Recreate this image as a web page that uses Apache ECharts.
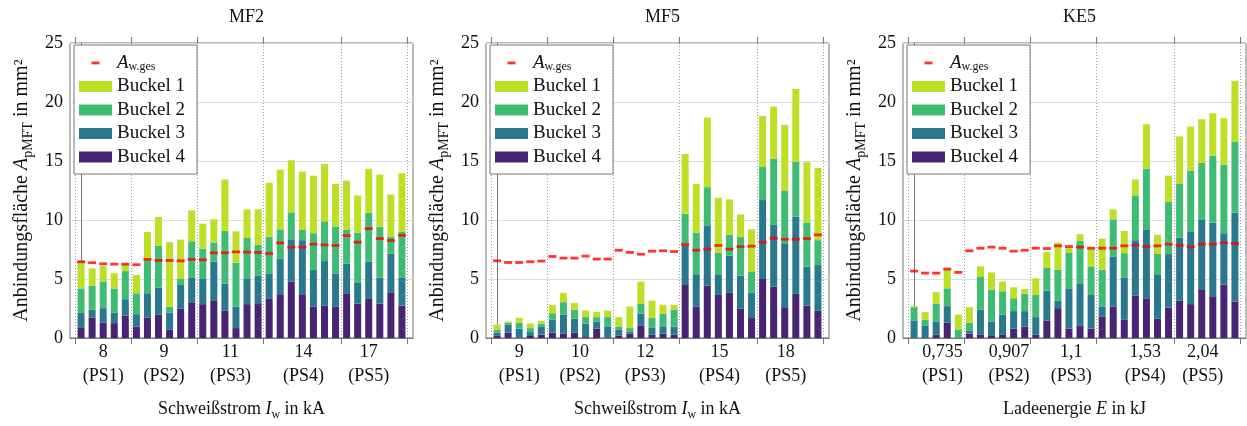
<!DOCTYPE html>
<html><head><meta charset="utf-8">
<script src="https://cdn.jsdelivr.net/npm/echarts@6/dist/echarts.min.js"></script>
<style>html,body{margin:0;padding:0;background:#fff}#c{width:1247px;height:426px}</style>
</head><body><div id="c"></div>
<script>
// ---------- DATA ----------
const panelTitles = ['MF2', 'MF5', 'KE5'];
const groupSizes = [5, 6, 6, 7, 6];
const xTicks_MF2 = ['8\n(PS1)', '9\n(PS2)', '11\n(PS3)', '14\n(PS4)', '17\n(PS5)'];
const xTicks_MF5 = ['9\n(PS1)', '10\n(PS2)', '12\n(PS3)', '15\n(PS4)', '18\n(PS5)'];
const xTicks_KE5 = ['0,735\n(PS1)', '0,907\n(PS2)', '1,1\n(PS3)', '1,53\n(PS4)', '2,04\n(PS5)'];

const MF2_buckel4 = [0.9,1.74,1.32,1.26,1.91,0.98,1.74,1.97,0.7,2.47,3.03,2.87,3.2,2.3,0.84,2.87,2.95,3.31,3.71,4.78,3.71,2.67,2.75,2.64,3.79,2.92,3.31,2.92,3.88,2.75];
const MF2_buckel3 = [1.26,0.65,1.21,0.9,1.38,1.04,2.05,2.3,1.46,2.08,2.11,2.13,3.26,2.3,1.83,2.13,2.33,2.17,2.98,3.59,4.58,3.09,3.77,2.84,2.5,1.8,3.15,2.19,3.28,2.39];
const MF2_buckel2 = [2.03,2.05,2.25,2.03,2.38,1.77,2.81,3.54,0.48,0.45,3.06,2.58,1.63,4.5,3.71,3.48,2.64,3.09,2.52,2.28,0.87,3.12,3.37,3.93,2.87,4.21,4.16,4.33,1.44,3.85];
const MF2_buckel1 = [2.31,1.46,1.34,1.29,0.57,1.55,2.39,2.44,5.48,3.34,2.61,2.11,1.97,4.33,2.66,2.42,2.98,4.58,5.06,4.41,4.94,4.88,4.86,3.65,4.18,3.15,3.71,4.41,3.56,4.97];
const MF2_awges   = [6.46,6.38,6.29,6.26,6.26,6.21,6.66,6.57,6.57,6.54,6.66,6.63,7.22,7.22,7.3,7.28,7.25,7.16,8.06,7.7,7.7,7.95,7.89,7.84,8.68,8.12,9.27,8.43,8.26,8.71];

const MF5_buckel4 = [0.22,0.45,0.05,0.17,0.28,0.45,0.39,0.45,0.08,0.79,0,0.22,0.37,1.07,0.28,0.37,0.28,4.49,2.67,4.44,3.65,3.82,2.47,1.69,5.0,4.35,2.61,3.74,2.75,2.3];
const MF5_buckel3 = [0.23,0.7,0.74,0.33,0.65,1.09,1.58,1.18,1.13,0.61,0.93,0.51,0.19,0.98,0.62,0.56,0.7,3.32,2.67,5.05,1.69,3.15,2.81,2.13,6.69,5.23,5.42,6.54,3.29,3.88];
const MF5_buckel2 = [0.25,0.14,0.5,0.34,0.28,0.56,1.06,0.76,0.56,0.37,0.84,0.25,0.28,0.84,0.79,1.12,1.44,2.72,3.59,3.29,1.91,1.77,3.29,1.83,2.8,5.62,4.47,4.66,3.74,2.11];
const MF5_buckel1 = [0.45,0.11,0.42,0.4,0.25,0.71,0.79,0.59,0.56,0.45,0.56,0.79,1.83,1.89,1.48,0.76,0.39,5.06,4.13,5.9,4.63,3.0,1.91,3.56,4.33,4.41,5.56,6.16,5.11,6.12];
const MF5_awges   = [6.54,6.4,6.4,6.46,6.52,6.91,6.77,6.77,6.94,6.69,6.69,7.44,7.25,7.1,7.36,7.39,7.33,7.92,7.44,7.53,7.84,7.53,7.75,7.78,8.12,8.46,8.37,8.37,8.43,8.74];

const KE5_buckel4 = [0,0,0.28,1.29,0,0.37,0.31,0.17,0.31,0.79,0.98,0.28,1.49,2.53,0.79,1.07,0.79,1.83,2.67,1.54,3.6,3.31,1.63,2.58,3.15,2.87,4.07,3.54,4.52,3.09];
const KE5_buckel3 = [1.49,1.07,1.12,1.41,0,0.28,2.11,1.23,1.68,1.49,1.3,1.49,2.53,0.64,3.37,3.51,2.86,0.84,4.24,3.6,4.69,5.9,3.71,4.53,5.36,6.12,5.99,6.24,4.36,7.53];
const KE5_buckel2 = [1.12,0.47,1.49,1.51,0.73,0.64,2.8,2.7,1.97,1.09,1.46,1.88,1.91,2.62,3.09,3.65,2.42,3.12,3.15,2.05,3.79,5.14,1.82,4.41,4.58,5.2,4.77,5.67,5.81,6.04];
const KE5_buckel1 = [0.09,0.65,0.99,1.58,1.26,1.32,0.85,1.46,0.82,0.93,0.42,1.41,1.37,2.3,0.42,0.56,1.51,2.64,0.84,1.88,1.35,3.77,1.58,2.24,3.99,3.73,3.71,3.59,3.93,5.14];
const KE5_awges   = [5.67,5.5,5.5,5.84,5.56,7.39,7.61,7.7,7.61,7.36,7.44,7.61,7.58,7.81,7.75,7.7,7.61,7.61,7.61,7.81,7.87,7.75,7.81,7.95,7.84,7.72,7.95,7.95,8.06,8.0];

// ---------- LAYOUT / STYLE ----------
const FONT = 'Liberation Serif';
const FS = 18;
const COL = { b1: '#bddf26', b2: '#3fbc73', b3: '#2a788e', b4: '#482475', aw: '#ff0000' };
const AXC = '#777777';
const GW = 343, GT = 43, GH = 297;

const panels = [
  { left: 70,  title: panelTitles[0], ticks: xTicks_MF2, labelPos: [2, 7.5, 13.5, 20.1, 26],
    b1: MF2_buckel1, b2: MF2_buckel2, b3: MF2_buckel3, b4: MF2_buckel4, aw: MF2_awges,
    xName: 'Schweißstrom {i|I}{s|w} in kA' },
  { left: 486, title: panelTitles[1], ticks: xTicks_MF5, labelPos: [2, 7.5, 13.4, 20.1, 26.1],
    b1: MF5_buckel1, b2: MF5_buckel2, b3: MF5_buckel3, b4: MF5_buckel4, aw: MF5_awges,
    xName: 'Schweißstrom {i|I}{s|w} in kA' },
  { left: 903, title: panelTitles[2], ticks: xTicks_KE5, labelPos: [2.57, 8.57, 14.2, 20.9, 26.1],
    b1: KE5_buckel1, b2: KE5_buckel2, b3: KE5_buckel3, b4: KE5_buckel4, aw: KE5_awges,
    xName: 'Ladeenergie {i|E} in kJ' }
];

// group boundaries from group sizes (in bar-index units)
const edges = [-0.5];
groupSizes.forEach(s => edges.push(edges[edges.length - 1] + s));
// category slots: one empty slot before and after the 30 bars
const nBars = MF2_buckel1.length;
const slots = Array.from({ length: nBars + 2 }, (_, j) => 'S' + j);

const rich = {
  i: { fontFamily: FONT, fontSize: FS, fontStyle: 'italic', color: '#111', lineHeight: 24 },
  s: { fontFamily: FONT, fontSize: 12, color: '#111', verticalAlign: 'bottom', lineHeight: 14 }
};
const richY = {
  i: { fontFamily: FONT, fontSize: 20, fontStyle: 'italic', color: '#111', lineHeight: 26 },
  s: { fontFamily: FONT, fontSize: 14, color: '#111', verticalAlign: 'bottom', lineHeight: 16 }
};

const grid = [], xAxis = [], yAxis = [], series = [], legend = [], title = [];

panels.forEach((p, k) => {
  grid.push({ left: p.left, top: GT, width: GW, height: GH, show: true,
    borderColor: AXC, borderWidth: 1, backgroundColor: 'transparent' });
  title.push({ text: p.title, left: p.left + GW / 2, top: 3, textAlign: 'center',
    textStyle: { fontFamily: FONT, fontSize: FS, fontWeight: 'normal', color: '#111' } });

  // 3k: value axis (bottom, labels/ticks), 3k+1: top ticks, 3k+2: hidden category axis for bars
  xAxis.push({
    gridIndex: k, type: 'value', min: -1, max: nBars, position: 'bottom',
    axisLine: { show: true, lineStyle: { color: AXC, width: 1 } },
    axisTick: { show: true, customValues: edges, length: 6, inside: false, lineStyle: { color: AXC } },
    axisLabel: { show: true, customValues: p.labelPos, margin: 2,
      formatter: (v) => { const j = p.labelPos.findIndex(q => Math.abs(q - v) < 1e-6); return j >= 0 ? p.ticks[j] : ''; },
      fontFamily: FONT, fontSize: FS, lineHeight: 24, color: '#111' },
    splitLine: { show: false },
    name: p.xName, nameLocation: 'middle', nameGap: 59,
    nameTextStyle: { fontFamily: FONT, fontSize: FS, color: '#111', lineHeight: 24, rich: rich }
  });
  xAxis.push({
    gridIndex: k, type: 'value', min: -1, max: nBars, position: 'top',
    axisLine: { show: false },
    axisTick: { show: true, customValues: edges, length: 6, inside: false, lineStyle: { color: AXC } },
    axisLabel: { show: false }, splitLine: { show: false }
  });
  xAxis.push({
    gridIndex: k, type: 'category', data: slots, boundaryGap: false, position: 'bottom',
    axisLine: { show: false }, axisTick: { show: false }, axisLabel: { show: false }, splitLine: { show: false }
  });
  yAxis.push({
    gridIndex: k, type: 'value', min: 0, max: 25, interval: 5,
    axisLine: { show: true, lineStyle: { color: AXC, width: 1 } },
    axisTick: { show: false },
    axisLabel: { margin: 7, fontFamily: FONT, fontSize: FS, color: '#111' },
    splitLine: { show: true, lineStyle: { color: '#dddddd', width: 1 } },
    name: 'Anbindungsfläche {i|A}{s|pMFT} in mm²', nameLocation: 'middle', nameRotate: 90, nameGap: 35,
    nameTextStyle: { fontFamily: FONT, fontSize: 20, color: '#111', lineHeight: 26, rich: richY }
  });

  const mk = (name, arr, color) => ({
    name: name, type: 'bar', xAxisIndex: 3 * k + 2, yAxisIndex: k, stack: 'p' + k, barWidth: 7,
    itemStyle: { color: color }, emphasis: { disabled: true },
    data: arr.map((v, i) => [i + 1, v])
  });
  series.push(mk('Buckel 4', p.b4, COL.b4));
  series.push(mk('Buckel 3', p.b3, COL.b3));
  series.push(mk('Buckel 2', p.b2, COL.b2));
  series.push(mk('Buckel 1', p.b1, COL.b1));
  series.push({ name: 'A_w.ges', type: 'scatter', xAxisIndex: 3 * k, yAxisIndex: k, z: 5,
    symbol: 'rect', symbolSize: [8, 2.8], itemStyle: { color: COL.aw }, emphasis: { disabled: true },
    data: p.aw.map((v, i) => [i, v]),
    markLine: { silent: true, symbol: ['none', 'none'], label: { show: false }, animation: false,
      emphasis: { disabled: true }, z: 1,
      lineStyle: { type: [1, 2], color: '#9a9a9a', width: 1 },
      data: edges.map(e => ({ xAxis: e })) }
  });

  legend.push({
    left: p.left + 4, top: 45, orient: 'vertical', selectedMode: false,
    backgroundColor: '#ffffff', borderColor: AXC, borderWidth: 1, borderRadius: 0,
    padding: [8, 12, 7, 5], itemGap: 3.5, itemWidth: 33, itemHeight: 11, itemTextGap: 4,
    textStyle: { fontFamily: FONT, fontSize: 19, lineHeight: 20, color: '#111',
      rich: { i: { fontFamily: FONT, fontSize: 19, fontStyle: 'italic', color: '#111', lineHeight: 20 },
              s: { fontFamily: FONT, fontSize: 12, color: '#111', verticalAlign: 'bottom', lineHeight: 12 } } },
    formatter: (n) => n === 'A_w.ges' ? '{i|A}{s|w.ges}' : n,
    data: [
      { name: 'A_w.ges', icon: 'path://M0,0M33,11M12.5,4.1h8v2.8h-8z' },
      { name: 'Buckel 1', icon: 'rect' },
      { name: 'Buckel 2', icon: 'rect' },
      { name: 'Buckel 3', icon: 'rect' },
      { name: 'Buckel 4', icon: 'rect' }
    ]
  });
});

const chart = echarts.init(document.getElementById('c'), null, { renderer: 'canvas' });
chart.setOption({ animation: false, backgroundColor: '#ffffff', title, grid, xAxis, yAxis, legend, series });
</script></body></html>
